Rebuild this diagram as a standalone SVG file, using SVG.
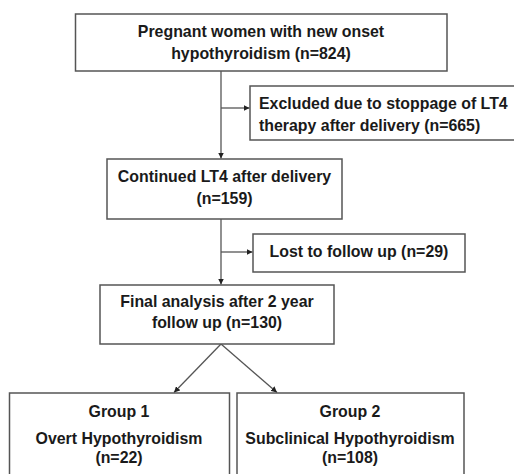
<svg xmlns="http://www.w3.org/2000/svg" width="514" height="474" viewBox="0 0 514 474">
<style>
.box{fill:#fff;stroke:#555;stroke-width:1.5}
.t{font-family:"Liberation Sans",Arial,sans-serif;font-weight:bold;font-size:15.9px;fill:#1a1a1a;text-anchor:middle}
.tl{text-anchor:start}
.c{fill:none;stroke:#555;stroke-width:1.3}
</style>
<defs>
<marker id="ah" viewBox="0 0 10 10" refX="10" refY="5" markerWidth="6" markerHeight="6" markerUnits="userSpaceOnUse" orient="auto">
<path d="M0,0 L10,5 L0,10 z" fill="#222"/>
</marker>
</defs>
<rect width="514" height="474" fill="#fff"/>
<g id="connectors">
<line class="c" x1="221" y1="71" x2="221" y2="158.5" marker-end="url(#ah)"/>
<line class="c" x1="221" y1="108" x2="249.5" y2="108" marker-end="url(#ah)"/>
<line class="c" x1="221" y1="219" x2="221" y2="284.5" marker-end="url(#ah)"/>
<line class="c" x1="221" y1="252" x2="252.5" y2="252" marker-end="url(#ah)"/>
<line class="c" x1="221" y1="344" x2="174" y2="392.5" marker-end="url(#ah)"/>
<line class="c" x1="221" y1="344" x2="277" y2="392.5" marker-end="url(#ah)"/>
</g>
<g id="n1">
<rect class="box" x="75.5" y="14" width="371.5" height="57"/>
<text class="t" x="261" y="37">Pregnant women with new onset</text>
<text class="t" x="261" y="59">hypothyroidism (n=824)</text>
</g>
<g id="n2">
<rect class="box" x="250" y="86" width="270" height="54"/>
<text class="t tl" x="259" y="109">Excluded due to stoppage of LT4</text>
<text class="t tl" x="259" y="131">therapy after delivery (n=665)</text>
</g>
<g id="n3">
<rect class="box" x="107" y="159" width="235" height="60"/>
<text class="t" x="224.5" y="182">Continued LT4 after delivery</text>
<text class="t" x="224.5" y="204">(n=159)</text>
</g>
<g id="n4">
<rect class="box" x="253" y="234" width="212" height="38"/>
<text class="t" x="359" y="257">Lost to follow up (n=29)</text>
</g>
<g id="n5">
<rect class="box" x="100" y="285" width="234" height="59"/>
<text class="t" x="217" y="307">Final analysis after 2 year</text>
<text class="t" x="217" y="328">follow up (n=130)</text>
</g>
<g id="n6">
<rect class="box" x="9.5" y="393" width="220" height="90"/>
<text class="t" x="119" y="417">Group 1</text>
<text class="t" x="119" y="444">Overt Hypothyroidism</text>
<text class="t" x="119" y="463">(n=22)</text>
</g>
<g id="n7">
<rect class="box" x="237" y="393" width="227" height="90"/>
<text class="t" x="350" y="417">Group 2</text>
<text class="t" x="350" y="444">Subclinical Hypothyroidism</text>
<text class="t" x="350" y="463">(n=108)</text>
</g>
</svg>
